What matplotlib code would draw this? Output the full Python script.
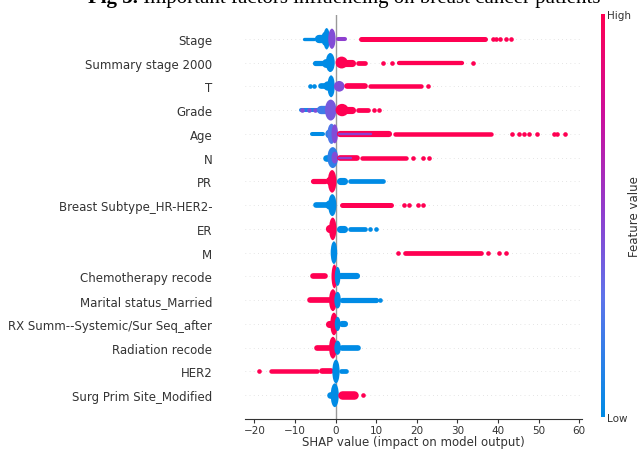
import matplotlib
matplotlib.use("Agg")
import matplotlib.pyplot as plt
import numpy as np
from matplotlib.colors import LinearSegmentedColormap
from matplotlib.patches import Ellipse

# SHAP-style red/blue colormap
shap_cmap = LinearSegmentedColormap.from_list(
    "red_blue",
    [(0.0, "#008be5"), (0.3, "#5f73ea"), (0.5, "#8e3fcf"),
     (0.75, "#cc0f9c"), (1.0, "#ff0052")])

features = ["Stage", "Summary stage 2000", "T", "Grade", "Age", "N", "PR",
            "Breast Subtype_HR-HER2-", "ER", "M", "Chemotherapy recode",
            "Marital status_Married", "RX Summ--Systemic/Sur Seq_after",
            "Radiation recode", "HER2", "Surg Prim Site_Modified"]

# swarm pieces per feature: (x_start, x_end, thickness in rows, feature value 0..1)
# pieces with x_start == x_end are single dots
stage = [(-8.2, -5.0, 0.14, 0), (-5.0, -1.5, 0.35, 0), (-3.5, -1.6, 0.6, 0),
         (-3.0, -1.4, 0.9, 0), (-1.8, 0.0, 0.85, 0.45), (0.0, 2.8, 0.17, 0.5),
         (5.7, 37.5, 0.21, 1), (38.8, 38.8, 0, 1), (39.5, 39.5, 0, 1),
         (40.5, 40.5, 0, 1), (42.0, 42.0, 0, 1), (43.2, 43.2, 0, 1)]
summary_stage = [(-5.7, -0.4, 0.22, 0), (-3.5, -0.4, 0.38, 0), (-2.4, -0.2, 0.8, 0),
                 (0.0, 3.0, 0.5, 1), (0.0, 5.0, 0.3, 1), (5.0, 7.9, 0.2, 1),
                 (11.6, 11.6, 0, 1), (14.0, 14.0, 0, 1), (15.2, 31.6, 0.18, 1),
                 (33.8, 33.8, 0, 1)]
t_stage = [(-6.2, -6.2, 0, 0), (-5.4, -5.4, 0, 0), (-4.4, -0.4, 0.24, 0),
           (-3.0, -0.4, 0.4, 0), (-2.0, -0.2, 0.92, 0), (-0.4, 2.2, 0.45, 0.45),
           (2.0, 8.0, 0.24, 1), (8.0, 21.5, 0.19, 1), (22.7, 22.7, 0, 1)]
grade = [(-9.0, -3.0, 0.17, 0.1), (-8.2, -8.2, 0, 0.45), (-6.5, -6.5, 0, 0.45),
         (-5.0, -5.0, 0, 0.45), (-4.5, 0.0, 0.35, 0.2), (-2.6, 0.2, 0.88, 0.4),
         (0.0, 3.2, 0.52, 1), (0.0, 5.0, 0.3, 1), (5.0, 8.6, 0.2, 1),
         (9.4, 9.4, 0, 1), (10.6, 10.6, 0, 1)]
age = [(-6.2, -2.5, 0.17, 0), (-2.5, 0.0, 0.4, 0.15), (-2.0, 0.0, 0.85, 0.25),
       (-1.0, 0.6, 0.8, 0.45), (0.3, 14.0, 0.26, 1), (0.5, 9.0, 0.1, 0.5),
       (14.0, 38.8, 0.19, 1),
       (43.5, 43.5, 0, 1), (45.2, 45.2, 0, 1), (46.4, 46.4, 0, 1),
       (47.7, 47.7, 0, 1), (49.6, 49.6, 0, 1), (53.8, 53.8, 0, 1),
       (54.6, 54.6, 0, 1), (56.5, 56.5, 0, 1)]
n_stage = [(-3.2, -0.8, 0.28, 0), (-2.0, 0.6, 0.88, 0.15), (-1.0, 0.6, 0.5, 0.45),
           (0.4, 6.0, 0.24, 1), (0.6, 4.0, 0.1, 0.5), (6.0, 17.8, 0.19, 1),
           (19.0, 19.0, 0, 1), (21.5, 21.5, 0, 1), (23.0, 23.0, 0, 1)]
pr = [(-6.2, -2.0, 0.22, 1), (-2.5, 0.0, 0.35, 1), (-1.9, 0.2, 0.95, 1),
      (0.3, 3.0, 0.3, 0), (3.0, 12.3, 0.2, 0)]
breast_subtype = [(-5.4, -1.5, 0.24, 0), (-2.5, 0.0, 0.4, 0), (-1.8, 0.2, 0.92, 0),
                  (1.0, 14.3, 0.21, 1), (16.8, 16.8, 0, 1), (18.0, 18.0, 0, 1),
                  (20.2, 20.2, 0, 1), (21.5, 21.5, 0, 1)]
er = [(-2.5, 0.0, 0.35, 1), (-1.6, 0.2, 0.95, 1),
      (0.2, 3.0, 0.3, 0), (3.0, 7.9, 0.2, 0), (8.6, 8.6, 0, 0), (9.9, 9.9, 0, 0)]
m_stage = [(-1.2, 0.4, 0.95, 0),
           (15.3, 15.3, 0, 1), (16.5, 36.5, 0.2, 1), (37.5, 37.5, 0, 1),
           (40.2, 40.2, 0, 1), (42.0, 42.0, 0, 1)]
chemotherapy = [(-6.2, -2.0, 0.24, 1), (-2.0, 0.0, 0.35, 1), (-1.0, 0.4, 1.0, 1),
                (-0.2, 1.2, 0.8, 0), (0.7, 6.0, 0.26, 0)]
marital = [(-6.9, -1.0, 0.24, 1), (-1.6, 0.3, 0.92, 1), (-0.3, 1.3, 0.7, 0),
           (0.9, 10.6, 0.22, 0), (10.9, 10.9, 0, 0)]
rx_summ = [(-3.7, -2.5, 0.22, 0), (-2.5, -0.3, 0.3, 1), (-1.3, 0.5, 0.95, 1),
           (-0.2, 1.2, 0.6, 0), (0.8, 3.2, 0.26, 0)]
radiation = [(-5.2, -1.0, 0.24, 1), (-1.6, 0.3, 0.92, 1), (-0.3, 1.3, 0.6, 0),
             (0.9, 6.2, 0.24, 0)]
her2 = [(-18.8, -18.8, 0, 1), (-16.5, -4.0, 0.19, 1), (-4.0, -0.3, 0.24, 1),
        (-0.8, 1.0, 1.0, 0), (0.7, 3.2, 0.2, 0)]
surg_prim = [(-2.0, -0.5, 0.28, 0), (-1.2, 0.8, 1.0, 0),
             (0.5, 5.7, 0.36, 1), (6.7, 6.7, 0, 1)]

swarms = [stage, summary_stage, t_stage, grade, age, n_stage, pr, breast_subtype,
          er, m_stage, chemotherapy, marital, rx_summ, radiation, her2, surg_prim]

x_ticks = [-20, -10, 0, 10, 20, 30, 40, 50, 60]

fig = plt.figure(figsize=(6.42, 4.52), dpi=100)
ax = fig.add_axes([0.3816, 0.0708, 0.5245, 0.8938])
ax.set_xlim(-22.3, 60.6)
n = len(features)
ax.set_ylim(-1, n)

# size of one row and one x unit in pixels, to keep round ends inside the pieces
ax_bb = ax.get_position()
row_px = ax_bb.height * fig.bbox.height / (n + 1)
unit_px = ax_bb.width * fig.bbox.width / (60.6 + 22.3)

for i, pieces in enumerate(swarms):
    y = n - 1 - i
    ax.axhline(y=y, color="#cccccc", lw=0.5, dashes=(1, 5), zorder=-1)
    for x0, x1, h, c in pieces:
        col = shap_cmap(float(c))
        if x0 == x1:
            ax.scatter([x0], [y], s=11, color=col, linewidths=0, zorder=3)
        elif h >= 0.45:
            # dense pile-up near a value: rounded vertical spike
            ax.add_patch(Ellipse(((x0 + x1) / 2, y), x1 - x0, h,
                                 color=col, linewidth=0, zorder=3))
        else:
            lw_px = h * row_px
            trim = lw_px / 2 / unit_px
            a, b = x0 + trim, x1 - trim
            if b <= a:
                a = (x0 + x1) / 2
                b = a + 0.01
            ax.plot([a, b], [y, y], color=col, lw=lw_px * 0.72,
                    solid_capstyle="round", zorder=3)

ax.axvline(x=0, color="#999999", lw=1, zorder=-1)

ax.set_yticks(range(n))
ax.set_yticklabels(features[::-1], fontsize=8.5, color="#333333")
ax.tick_params("y", length=20, width=0.5, color="none")
ax.set_xticks(x_ticks)
ax.set_xticklabels([f"{t}".replace("-", "\u2212") for t in x_ticks],
                   fontsize=7.5, color="#333333")
ax.tick_params("x", length=3, width=0.8, color="#333333", pad=1.5)
ax.set_xlabel("SHAP value (impact on model output)", fontsize=8.5,
              color="#333333", labelpad=0)
for side in ["left", "right", "top"]:
    ax.spines[side].set_visible(False)
ax.spines["bottom"].set_color("#333333")
ax.spines["bottom"].set_linewidth(0.8)

# colour bar
cax = fig.add_axes([601 / 642, 34 / 452, 3.5 / 642, 403 / 452])
sm = plt.cm.ScalarMappable(cmap=shap_cmap, norm=plt.Normalize(0, 1))
cb = fig.colorbar(sm, cax=cax, ticks=[0, 1])
cb.outline.set_visible(False)
cb.ax.set_yticklabels(["Low", "High"], fontsize=7.5, color="#333333")
cb.ax.tick_params(length=0, pad=2)
cb.set_label("Feature value", fontsize=8.5, color="#333333", labelpad=-2)

# title, partly cut by the top edge
title_kw = dict(fontsize=15, family="Liberation Serif", va="baseline")
t1 = fig.text(88 / 642, 1 - 3.5 / 452, "Fig 3.", weight="bold", **title_kw)
renderer = fig.canvas.get_renderer()
bb = t1.get_window_extent(renderer)
fig.text(bb.x1 / fig.bbox.width, 1 - 3.5 / 452,
         " Important factors influencing on breast cancer patients", **title_kw)

fig.savefig("out.png", dpi=100)
